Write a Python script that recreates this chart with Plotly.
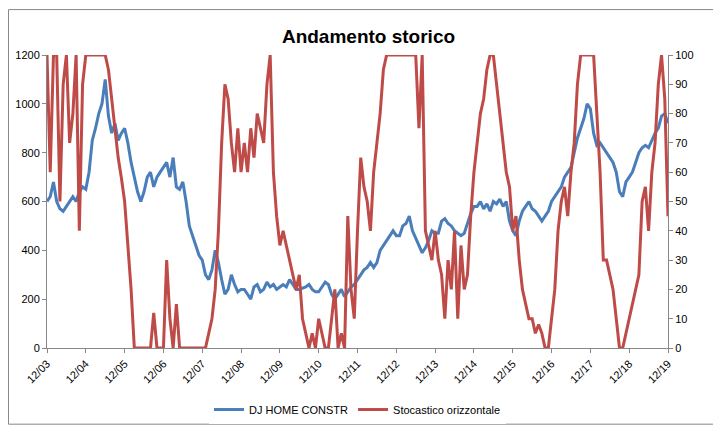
import plotly.graph_objects as go

# monthly readings, Dec 2003 .. Dec 2019
dj_home = [600,
    620, 680, 600, 570, 560, 580, 600, 620, 600, 640, 660, 650,
    720, 850, 900, 960, 1000, 1100, 950, 880, 920, 850, 880, 900,
    840, 760, 700, 640, 600, 640, 700, 720, 660, 700, 720, 740,
    760, 700, 780, 660, 650, 680, 600, 500, 460, 420, 380, 360,
    300, 280, 320, 400, 350, 280, 220, 240, 300, 260, 230, 240,
    240, 220, 200, 250, 260, 230, 240, 270, 250, 260, 240, 250,
    260, 250, 280, 260, 240, 240, 245, 250, 260, 240, 230, 230,
    250, 270, 260, 220, 200, 220, 240, 210, 230, 250, 260, 280,
    300, 320, 330, 350, 330, 350, 400, 420, 440, 460, 480, 460,
    460, 500, 510, 540, 480, 450, 420, 390, 410, 440, 480, 470,
    470, 520, 530, 510, 500, 480, 470, 460, 470, 510, 550, 580,
    580, 600, 570, 590, 560, 600, 590, 610, 580, 600, 520, 480,
    460, 520, 560, 580, 600, 570, 560, 540, 520, 540, 560, 600,
    620, 640, 660, 700, 720, 740, 800, 860, 900, 940, 1000, 980,
    880, 830, 840, 820, 800, 780, 760, 720, 640, 620, 680, 700,
    720, 760, 800, 820, 830, 820, 850, 880, 900, 950, 960, 920]

stoc = [100,
    60, 100, 100, 50, 90, 100, 70, 80, 100, 40, 90, 100,
    100, 100, 100, 100, 100, 100, 95, 85, 75, 65, 58, 50,
    35, 20, 0, 0, 0, 0, 0, 0, 12, 0, 0, 0,
    30, 10, 0, 15, 0, 0, 0, 0, 0, 0, 0, 0,
    0, 5, 10, 20, 40, 70, 90, 85, 70, 60, 75, 60,
    70, 60, 75, 65, 80, 75, 70, 90, 100, 60, 45, 35,
    40, 35, 30, 25, 20, 25, 10, 5, 0, 5, 0, 10,
    5, 0, 0, 10, 20, 0, 5, 0, 45, 20, 10, 40,
    65, 55, 50, 40, 60, 70, 80, 95, 100, 100, 100, 100,
    100, 100, 100, 100, 100, 100, 75, 100, 40, 35, 30, 40,
    30, 25, 10, 30, 20, 40, 10, 35, 20, 25, 45, 60,
    70, 80, 85, 95, 100, 100, 90, 80, 70, 60, 55, 40,
    45, 30, 20, 15, 10, 10, 5, 8, 5, 0, 0, 10,
    20, 40, 50, 55, 45, 60, 70, 90, 100, 100, 100, 100,
    100, 80, 60, 30, 30, 25, 20, 10, 0, 0, 5, 10,
    15, 20, 25, 50, 55, 40, 60, 70, 90, 100, 85, 45]

tick_labels = ["12/%02d" % y for y in range(3, 20)]
months = list(range(len(dj_home)))

fig = go.Figure()
fig.add_trace(go.Scatter(x=months, y=dj_home, mode="lines", name="DJ HOME CONSTR",
                         line=dict(color="#4a7ebb", width=3)))
fig.add_trace(go.Scatter(x=months, y=stoc, mode="lines", name="Stocastico orizzontale",
                         line=dict(color="#be4b48", width=3), yaxis="y2"))

axis_style = dict(showgrid=False, showline=True, linecolor="#888", ticks="outside",
                  ticklen=4, tickcolor="#888", automargin=False)

fig.update_layout(
    width=721, height=433,
    paper_bgcolor="white", plot_bgcolor="white",
    font=dict(family="Liberation Sans, Arial", size=11, color="#000"),
    title=dict(text="<b>Andamento storico</b>", x=0.5, xanchor="center",
               y=0.935, yanchor="middle", font=dict(size=19), automargin=False),
    margin=dict(l=39, r=61, t=47, b=93, autoexpand=False),
    xaxis=dict(tickvals=list(range(0, 193, 12)), ticktext=tick_labels, tickangle=-45,
               range=[0, 192], **axis_style),
    yaxis=dict(range=[0, 1200], dtick=200, **axis_style),
    yaxis2=dict(range=[0, 100], dtick=10, overlaying="y", side="right", **axis_style),
    legend=dict(orientation="h", x=0.5, xanchor="center", y=-0.21, yanchor="middle"),
    shapes=[dict(type="rect", xref="paper", yref="paper", x0=-0.062, x1=1.083,
                 y0=-0.26, y1=1.155, line=dict(color="#888", width=1))],
)

fig.write_html("out.html")
